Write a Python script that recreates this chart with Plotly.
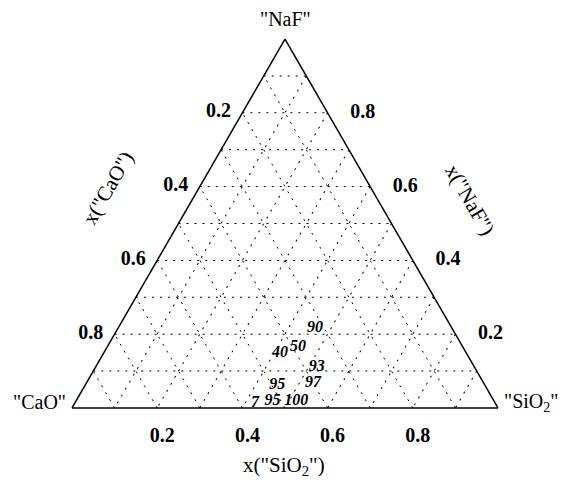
import plotly.graph_objects as go

# ---- data ----
corner_labels = ['"NaF"', '"CaO"', '"SiO<sub>2</sub>"']
side_titles = ['x("CaO")', 'x("NaF")', 'x("SiO<sub>2</sub>")']
grid_vals = [0.1, 0.2, 0.3, 0.4, 0.5, 0.6, 0.7, 0.8, 0.9]
labelled_fracs = [0.2, 0.4, 0.6, 0.8]

point_labels = ["90", "40", "50", "93", "97", "95", "95", "100", "7"]
x_naf = [0.217, 0.149, 0.165, 0.111, 0.068, 0.062, 0.019, 0.019, 0.013]
x_sio2 = [0.462, 0.414, 0.448, 0.519, 0.532, 0.451, 0.461, 0.517, 0.423]
x_cao = [round(1 - a - c, 3) for a, c in zip(x_naf, x_sio2)]

# ---- layout geometry (page pixels; the page body adds an 8px offset) ----
W, H = 567, 482
OFF = 8
LEFT, RIGHT, TOP, BASE = 72, 498, 39, 408
ML, MR, MT, MB = LEFT - OFF, W - RIGHT + OFF, TOP - OFF, H - BASE + OFF
PW, PH = RIGHT - LEFT, BASE - TOP
NBSP = "\u00a0"


def px(xp, yp):
    return (xp - LEFT) / PW, (BASE - yp) / PH


def ticktext(vals, pad=""):
    out = []
    for v in vals:
        f = round(1 - v, 1)
        out.append(pad + f"{f:.1f}" if f in labelled_fracs else "")
    return out


serif = "Liberation Serif"


def axis(ticklen, pad=""):
    return dict(
        min=0,
        tickmode="array",
        tickvals=grid_vals,
        ticktext=ticktext(grid_vals, pad),
        ticks="outside" if ticklen else "",
        ticklen=ticklen if ticklen else 1,
        tickcolor="rgba(0,0,0,0)",
        showline=True,
        linecolor="black",
        linewidth=1.5,
        showgrid=True,
        gridcolor="black",
        gridwidth=1,
        griddash="2px,6px",
        tickfont=dict(family=serif, size=20, color="black", weight="bold"),
        title=dict(text=""),
    )


fig = go.Figure()
fig.add_trace(
    go.Scatterternary(
        a=x_naf,
        b=x_cao,
        c=x_sio2,
        mode="text",
        text=point_labels,
        textfont=dict(family=serif, size=16, color="black", weight="bold", style="italic"),
        showlegend=False,
        cliponaxis=False,
    )
)

fig.update_layout(
    width=W,
    height=H,
    margin=dict(l=ML, r=MR, t=MT, b=MB),
    paper_bgcolor="white",
    ternary=dict(
        sum=1,
        bgcolor="white",
        domain=dict(x=[0, 1], y=[0, 1]),
        aaxis=axis(8),
        baxis=axis(10),
        caxis=axis(0, NBSP * 4),
    ),
)

font_lbl = dict(family=serif, size=20, color="black")
ann = []
pos = [(285, 19, "center"), (68, 402, "right"), (502, 402, "left")]
for text, (xp, yp, al) in zip(corner_labels, pos):
    x, y = px(xp, yp)
    ann.append(dict(x=x, y=y, xref="paper", yref="paper", text=text, showarrow=False,
                    xanchor=al, yanchor="middle", font=font_lbl))
side_pos = [(108, 188, -60), (470, 200, 60), (284, 466, 0)]
for text, (xp, yp, ang) in zip(side_titles, side_pos):
    x, y = px(xp, yp)
    ann.append(dict(x=x, y=y, xref="paper", yref="paper", text=text, showarrow=False,
                    xanchor="center", yanchor="middle", textangle=ang,
                    font=dict(family=serif, size=21, color="black")))
fig.update_layout(annotations=ann)

fig.write_html("out.html")
